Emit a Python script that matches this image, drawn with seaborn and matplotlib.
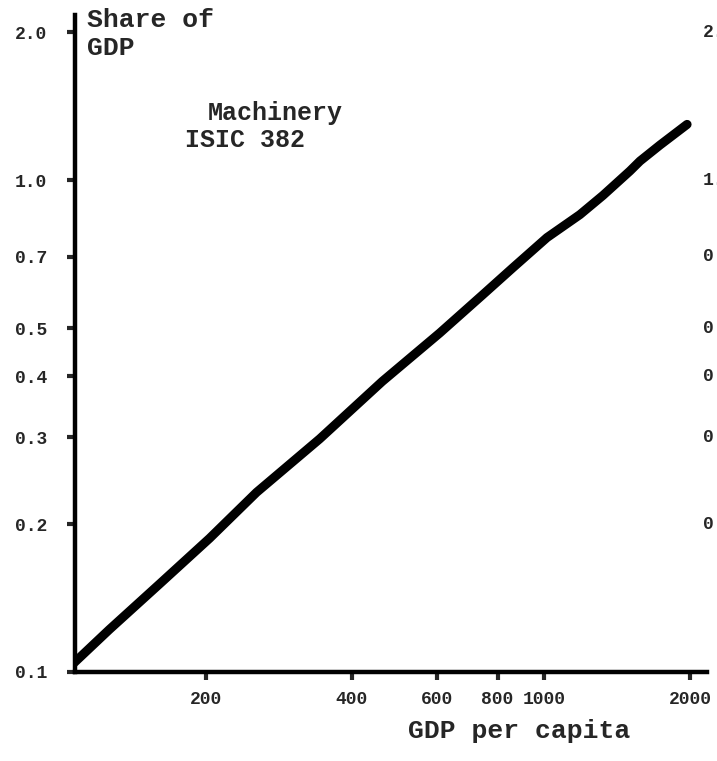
import pandas as pd
import matplotlib.pyplot as plt
import matplotlib.transforms as mtransforms
from matplotlib.ticker import NullLocator
import seaborn as sns

# Values: GDP per capita vs share of GDP (machinery, ISIC 382)
gdp_per_capita = [105, 126, 160, 203, 254, 343, 462, 607, 745, 860, 1012,
                  1184, 1321, 1502, 1576, 1733, 1972]
share_of_gdp = [0.103, 0.122, 0.151, 0.187, 0.232, 0.298, 0.390, 0.489, 0.585,
                0.664, 0.765, 0.852, 0.932, 1.045, 1.095, 1.180, 1.300]

x_ticks = [200, 400, 600, 800, 1000, 2000]
x_tick_labels = ['200', '400', '600', '800', '1000', '2000']
y_ticks = [0.1, 0.2, 0.3, 0.4, 0.5, 0.7, 1.0, 2.0]
y_tick_labels = ['0.1', '0.2', '0.3', '0.4', '0.5', '0.7', '1.0', '2.0']

df = pd.DataFrame({'gdp': gdp_per_capita, 'share': share_of_gdp})

# Set plot style (font after style, since set_style resets it)
sns.set_style('ticks')
plt.rcParams['font.family'] = ['Liberation Mono', 'DejaVu Sans Mono']
plt.rcParams['font.weight'] = 'bold'

fig = plt.figure(figsize=(7.17, 7.61), dpi=100)
ax = fig.add_axes([75 / 717, 89 / 761, 632 / 717, 657 / 761])

sns.lineplot(data=df, x='gdp', y='share', color='black', linewidth=6.5,
             solid_capstyle='round', solid_joinstyle='round', ax=ax)

ax.set_xscale('log')
ax.set_yscale('log')
ax.set_xlim(107, 2168)
ax.set_ylim(0.1, 2.17)
ax.set_xticks(x_ticks, x_tick_labels)
ax.set_yticks(y_ticks, y_tick_labels)
ax.xaxis.set_minor_locator(NullLocator())
ax.yaxis.set_minor_locator(NullLocator())
ax.set_xlabel('')
ax.set_ylabel('')

sns.despine(ax=ax)
for side in ['left', 'bottom']:
    ax.spines[side].set_linewidth(3.2)
    ax.spines[side].set_color('black')

ax.tick_params(axis='y', length=6, width=3, pad=14, labelsize=13)
ax.tick_params(axis='x', length=6, width=3, pad=8, labelsize=13)
for lbl in ax.get_xticklabels() + ax.get_yticklabels():
    lbl.set_fontweight('bold')

# Titles and axis captions
fig.text(87 / 717, 1 - 8 / 761, 'Share of\nGDP', fontsize=19, fontweight='bold',
         va='top', ha='left', linespacing=1.2)
fig.text(208 / 717, 1 - 120 / 761, 'Machinery', fontsize=18, fontweight='bold',
         va='baseline', ha='left')
fig.text(185 / 717, 1 - 147 / 761, 'ISIC 382', fontsize=18, fontweight='bold',
         va='baseline', ha='left')
fig.text(408 / 717, 1 - 738 / 761, 'GDP per capita', fontsize=19, fontweight='bold',
         va='baseline', ha='left')

# Tick labels of the neighbouring panel, cut off at the right edge as in the scan
right_trans = mtransforms.blended_transform_factory(fig.transFigure, ax.transData)
for val, lab in zip(y_ticks[1:], y_tick_labels[1:]):
    ax.text(703 / 717, val, lab, transform=right_trans, fontsize=13,
            fontweight='bold', va='center', ha='left', clip_on=False)

fig.savefig('out.png', dpi=100)
